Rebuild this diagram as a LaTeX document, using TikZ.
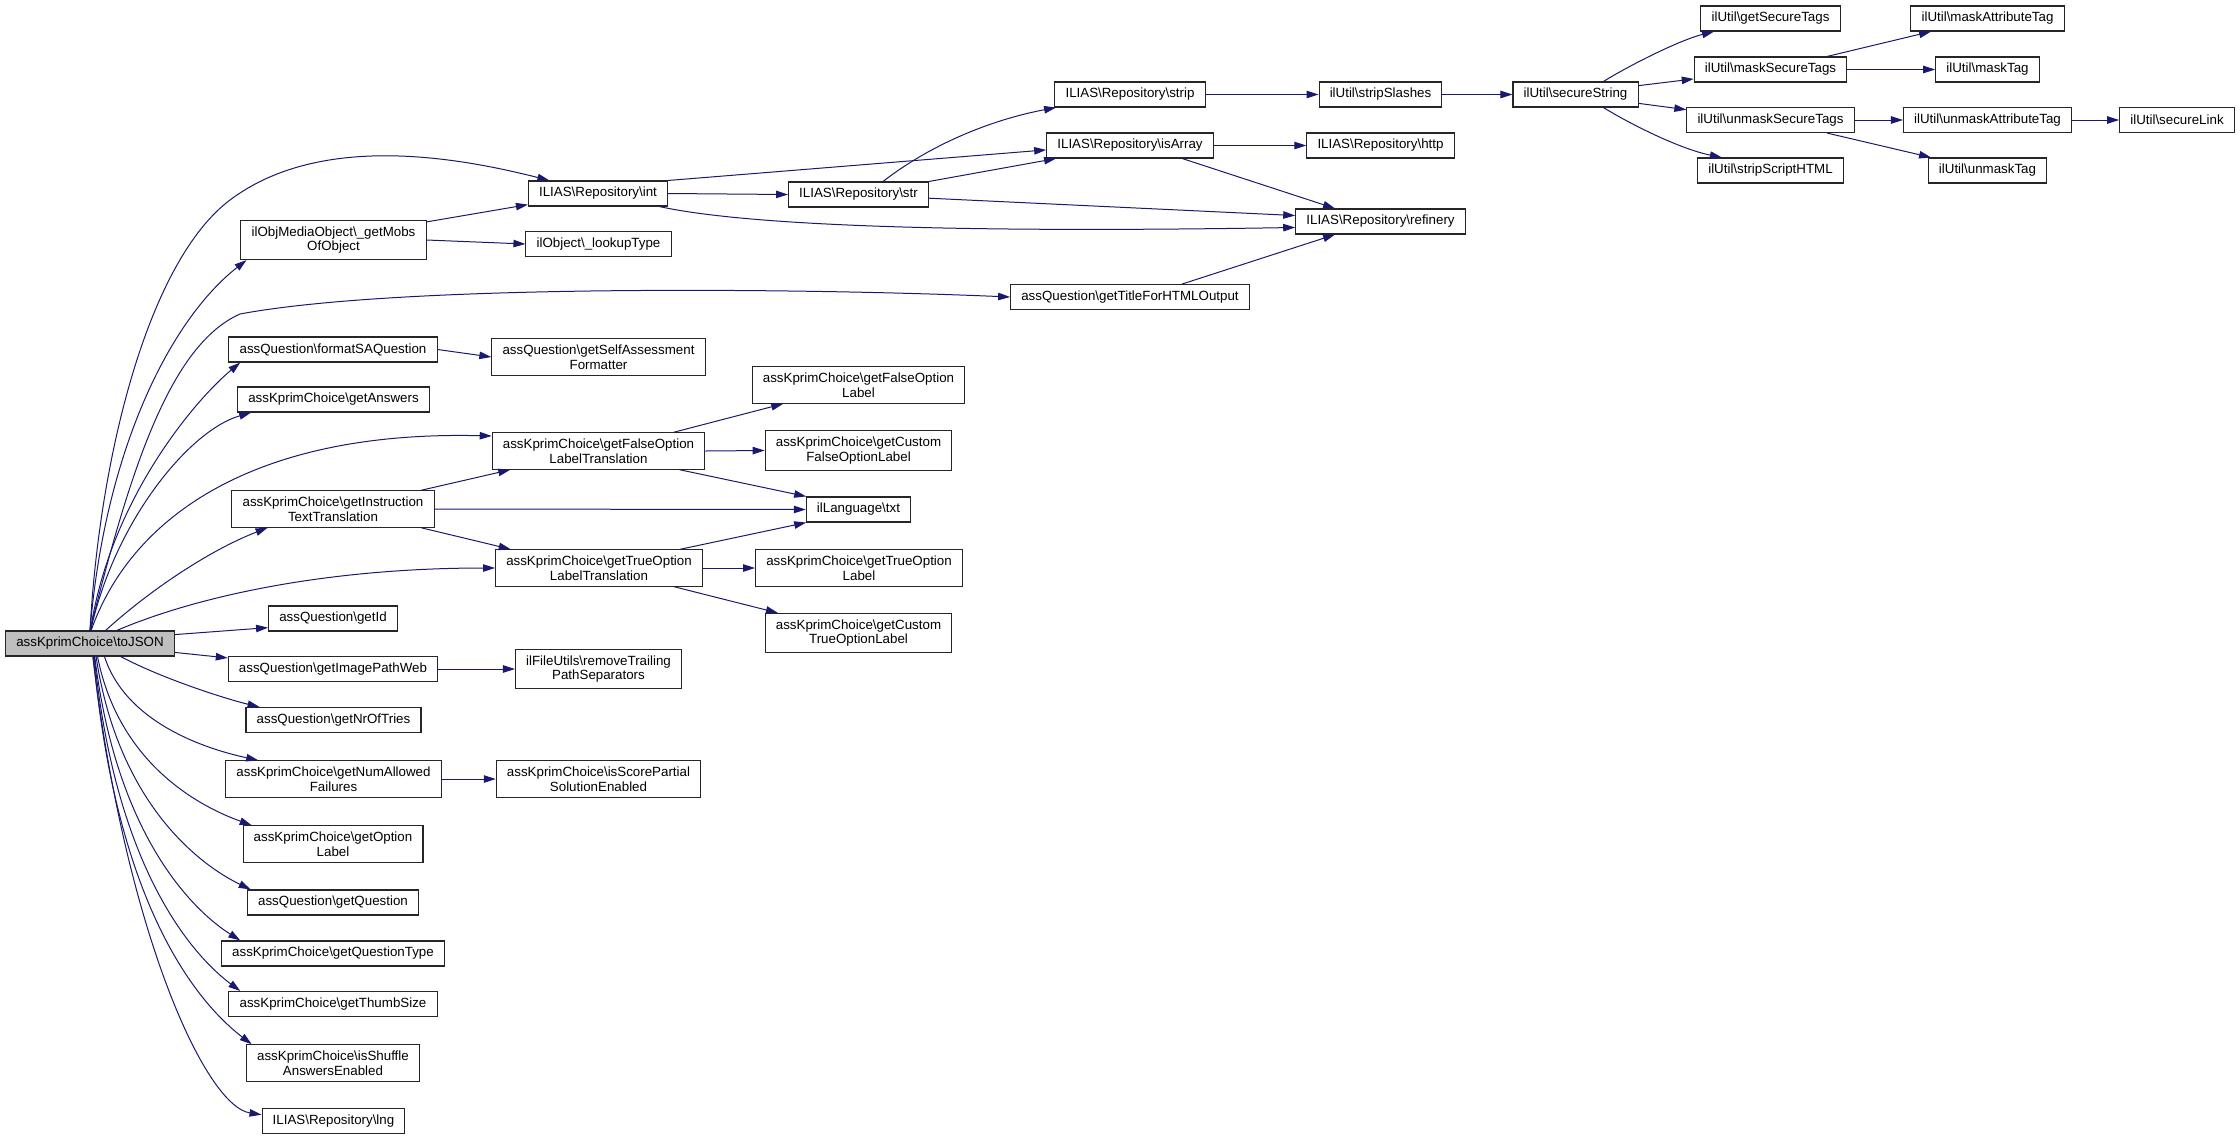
\documentclass[tikz,border=0pt]{standalone}
\usepackage{fontspec}
\setmainfont{Liberation Sans}
\usetikzlibrary{arrows.meta}
\definecolor{midnight}{HTML}{191970}
\newcommand{\bsl}{\textbackslash}

\begin{document}
\begin{tikzpicture}[x=0.75pt,y=-0.75pt,
  fn/.style={draw=black!85,line width=0.8pt,fill=white,font=\fontsize{10}{11}\selectfont,
    align=center,inner xsep=8pt,inner ysep=4.5pt,minimum height=18.75pt},
  root/.style={fn,fill=black!25},
  call/.style={draw=midnight,line width=0.75pt,-{Triangle[length=9pt,width=5.6pt]}}]
\useasboundingbox (0,0) rectangle (2240,1140);

%\draw[gray,very thin](0,0)grid[step=100](2240,1140);
\node[root] (json) at (90,643.5) {assKprimChoice\bsl toJSON};

% first column
\node[fn] (mobs) at (333.5,240) {ilObjMediaObject\bsl\_getMobs\\OfObject};
\node[fn] (formatsa) at (333,349.5) {assQuestion\bsl formatSAQuestion};
\node[fn] (answers) at (333.5,399.5) {assKprimChoice\bsl getAnswers};
\node[fn] (instr) at (333,509) {assKprimChoice\bsl getInstruction\\TextTranslation};
\node[fn] (getid) at (333,618.5) {assQuestion\bsl getId};
\node[fn] (imagepath) at (333,669) {assQuestion\bsl getImagePathWeb};
\node[fn] (nroftries) at (333.5,720) {assQuestion\bsl getNrOfTries};
\node[fn] (numallowed) at (333.5,779) {assKprimChoice\bsl getNumAllowed\\Failures};
\node[fn] (optionlabel) at (333,844) {assKprimChoice\bsl getOption\\Label};
\node[fn] (question) at (333,902.5) {assQuestion\bsl getQuestion};
\node[fn] (qtype) at (333,953.5) {assKprimChoice\bsl getQuestionType};
\node[fn] (thumb) at (333,1004) {assKprimChoice\bsl getThumbSize};
\node[fn] (shuffle) at (333,1063) {assKprimChoice\bsl isShuffle\\AnswersEnabled};
\node[fn] (lng) at (333.5,1121) {ILIAS\bsl Repository\bsl lng};

% second column
\node[fn] (int) at (598,193.5) {ILIAS\bsl Repository\bsl int};
\node[fn] (lookup) at (598.5,244) {ilObject\bsl\_lookupType};
\node[fn] (selfassess) at (598.5,357) {assQuestion\bsl getSelfAssessment\\Formatter};
\node[fn] (falsetrans) at (598.5,451) {assKprimChoice\bsl getFalseOption\\LabelTranslation};
\node[fn] (truetrans) at (599,568) {assKprimChoice\bsl getTrueOption\\LabelTranslation};
\node[fn] (trailing) at (598.5,669) {ilFileUtils\bsl removeTrailing\\PathSeparators};
\node[fn] (scorepartial) at (598.5,779) {assKprimChoice\bsl isScorePartial\\SolutionEnabled};

% third column
\node[fn] (str) at (858.5,194.5) {ILIAS\bsl Repository\bsl str};
\node[fn] (falselabel) at (858.5,385) {assKprimChoice\bsl getFalseOption\\Label};
\node[fn] (customfalse) at (858.5,450.5) {assKprimChoice\bsl getCustom\\FalseOptionLabel};
\node[fn] (txt) at (858.5,509.5) {ilLanguage\bsl txt};
\node[fn] (truelabel) at (859,568) {assKprimChoice\bsl getTrueOption\\Label};
\node[fn] (customtrue) at (858.5,633) {assKprimChoice\bsl getCustom\\TrueOptionLabel};

% repository and ilUtil part
\node[fn] (strip) at (1130,94.5) {ILIAS\bsl Repository\bsl strip};
\node[fn] (isarray) at (1130,145.5) {ILIAS\bsl Repository\bsl isArray};
\node[fn] (title) at (1130,297) {assQuestion\bsl getTitleForHTMLOutput};
\node[fn] (slashes) at (1380.5,94.5) {ilUtil\bsl stripSlashes};
\node[fn] (http) at (1380.5,145.5) {ILIAS\bsl Repository\bsl http};
\node[fn] (refinery) at (1380.5,221.5) {ILIAS\bsl Repository\bsl refinery};
\node[fn] (securestr) at (1575.5,94.5) {ilUtil\bsl secureString};
\node[fn] (gettags) at (1770.5,18.5) {ilUtil\bsl getSecureTags};
\node[fn] (masktags) at (1770.5,69.5) {ilUtil\bsl maskSecureTags};
\node[fn] (unmasktags) at (1770.5,120) {ilUtil\bsl unmaskSecureTags};
\node[fn] (stripscript) at (1770.5,170.5) {ilUtil\bsl stripScriptHTML};
\node[fn] (maskattr) at (1987.5,18.5) {ilUtil\bsl maskAttributeTag};
\node[fn] (masktag) at (1987.5,69.5) {ilUtil\bsl maskTag};
\node[fn] (unmaskattr) at (1987.5,120) {ilUtil\bsl unmaskAttributeTag};
\node[fn] (unmasktag) at (1987.5,170.5) {ilUtil\bsl unmaskTag};
\node[fn] (securelink) at (2177,120) {ilUtil\bsl secureLink};

% calls of toJSON, upwards
\draw[call] (json.90) .. controls (100,450) and (150,260) .. (230,200)
  .. controls (310,140) and (430,150) .. (int.165);
\draw[call] (json.90) .. controls (105,450) and (170,320) .. (mobs.193);
\draw[call] (json.90) .. controls (130,470) and (170,345) .. (240,314)
  .. controls (400,284) and (800,288) .. (title.west);
\draw[call] (json.88) .. controls (110,500) and (195,400) .. (formatsa.188);
\draw[call] (json.87) .. controls (115,520) and (190,430) .. (answers.189);
\draw[call] (json.85) .. controls (130,520) and (250,430) .. (falsetrans.172);
\draw[call] (json.40) .. controls (150,590) and (210,550) .. (instr.196);
\draw[call] (json.26) .. controls (200,595) and (330,568) .. (truetrans.west);
\draw[call] (json.6) -- (getid.188);
\draw[call] (json.-6) -- (imagepath.174);
% calls of toJSON, downwards
\draw[call] (json.-23) .. controls (165,680) and (230,700) .. (nroftries.170);
\draw[call] (json.-42) .. controls (126,723) and (206,749) .. (numallowed.166);
\draw[call] (json.-60) .. controls (119,765) and (201,807) .. (optionlabel.167);
\draw[call] (json.-65) .. controls (119,808) and (204,867) .. (question.171);
\draw[call] (json.-70) .. controls (117,841) and (197,913) .. (qtype.172);
\draw[call] (json.-72) .. controls (116,874) and (196,958) .. (thumb.172);
\draw[call] (json.-75) .. controls (116,908) and (199,1004) .. (shuffle.167);
\draw[call] (json.-78) .. controls (125,930) and (205,1106) .. (lng.175);

% straight calls
\foreach \a/\b in {int/str, mobs/lookup, formatsa/selfassess, instr/txt,
    falsetrans/customfalse, truetrans/truelabel, imagepath/trailing,
    numallowed/scorepartial, strip/slashes, slashes/securestr, isarray/http,
    masktags/masktag, unmasktags/unmaskattr, unmaskattr/securelink}
  \draw[call] (\a.east) -- (\b.west);

\draw[call] (mobs.11) -- (int.189);
\draw[call] (int.north east) -- (isarray.183);
\draw[call] (int.-12) .. controls (730,222) and (900,234) .. (refinery.184);
\draw[call] (str.28) .. controls (930,145) and (990,120) .. (strip.190);
\draw[call] (str.north east) -- (isarray.190);
\draw[call] (str.-3) -- (refinery.176);
\draw[call] (isarray.-14) -- (refinery.164);
\draw[call] (title.14) -- (refinery.196);

\draw[call] (securestr.25) .. controls (1630,65) and (1680,40) .. (gettags.193);
\draw[call] (securestr.8) -- (masktags.187);
\draw[call] (securestr.-8) -- (unmasktags.173);
\draw[call] (securestr.-25) .. controls (1630,124) and (1680,149) .. (stripscript.165);
\draw[call] (masktags.13) -- (maskattr.193);
\draw[call] (unmasktags.-13) -- (unmasktag.167);

\draw[call] (instr.12) -- (falsetrans.192);
\draw[call] (instr.-12) -- (truetrans.168);
\draw[call] (falsetrans.14) -- (falselabel.194);
\draw[call] (falsetrans.-13) -- (txt.166);
\draw[call] (truetrans.13) -- (txt.194);
\draw[call] (truetrans.-14) -- (customtrue.166);
\end{tikzpicture}
\end{document}
